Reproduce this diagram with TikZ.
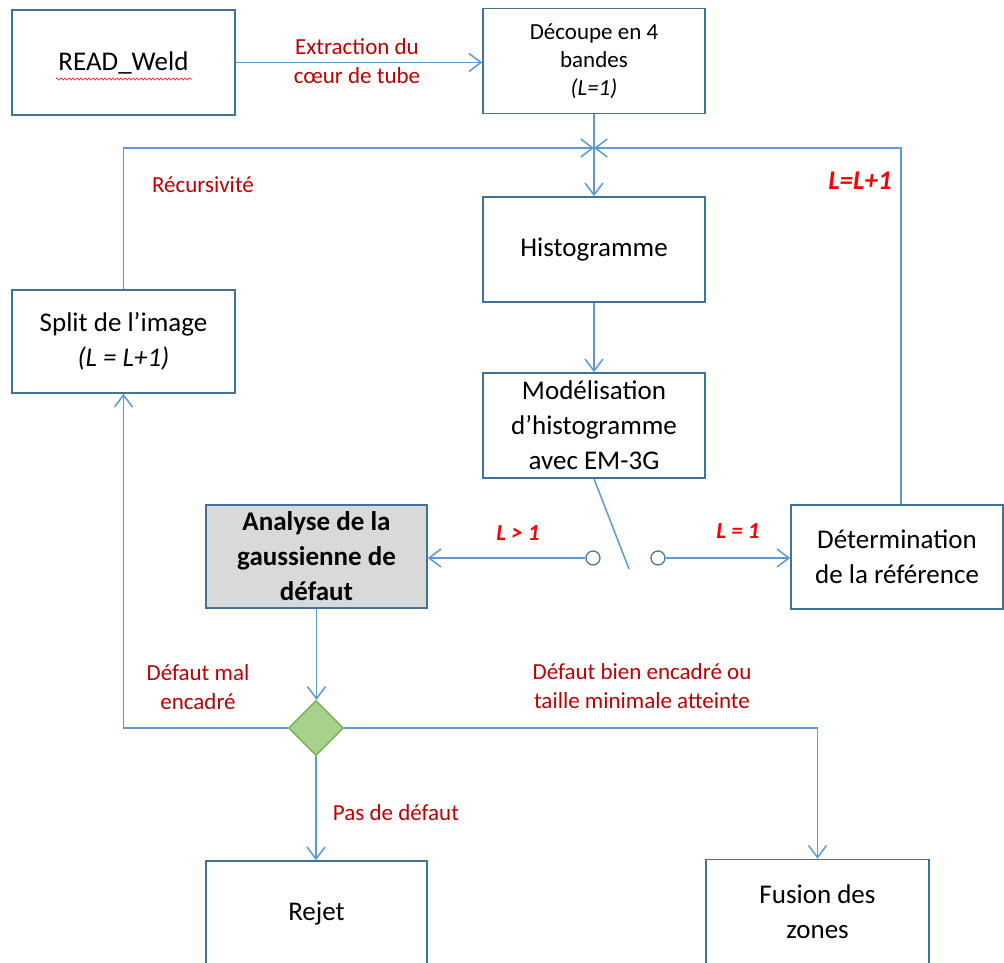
\documentclass[tikz,border=0pt]{standalone}
\usepackage{fontspec}
\setmainfont{Carlito}
\usetikzlibrary{arrows.meta,shapes.geometric,decorations.pathmorphing}
\definecolor{boxc}{HTML}{41719C}
\definecolor{linec}{HTML}{5B9BD5}
\definecolor{lab}{HTML}{C00000}
\definecolor{labr}{HTML}{FF0000}
\definecolor{dfill}{HTML}{A9D18E}
\definecolor{dline}{HTML}{70AD47}
\definecolor{gfill}{HTML}{D9D9D9}
\begin{document}
\begin{tikzpicture}[x=1pt,y=-1pt,
 box/.style={draw=boxc, line width=1.6pt, fill=white, align=center, inner sep=0pt, font=\fontsize{27}{35}\selectfont},
 conn/.style={draw=linec, line width=1.5pt},
 arr/.style={conn, -{Straight Barb[length=12pt,width=18pt]}},
 lbl/.style={text=lab, align=center, font=\fontsize{23}{29}\selectfont},
 lblr/.style={text=labr, font=\fontsize{23}{29}\selectfont\bfseries\itshape},
 sw/.style={circle, draw=boxc, line width=1.2pt, fill=white, minimum size=14pt, inner sep=0pt},
]
\clip (0,0) rectangle (1004,963);
\fill[white] (0,0) rectangle (1004,963);

% boxes
\node[box, minimum width=223pt, minimum height=105pt] (read) at (123.5,62.5) {READ\_Weld};
\node[box, minimum width=222pt, minimum height=105pt, font=\fontsize{23}{28}\selectfont] (decoupe) at (594,61) {Découpe en 4\\bandes\\\textit{(L=1)}};
\node[box, minimum width=222pt, minimum height=105pt] (histo) at (594,249.5) {Histogramme};
\node[box, minimum width=222pt, minimum height=105pt] (model) at (594,425.5) {Modélisation\\d’histogramme\\avec EM-3G};
\node[box, minimum width=223pt, minimum height=103pt] (split) at (123.5,341.5) {Split de l’image\\\textit{(L = L+1)}};
\node[box, fill=gfill, minimum width=221pt, minimum height=103pt, font=\fontsize{27}{35}\selectfont\bfseries] (analyse) at (316.5,556.5) {Analyse de la\\gaussienne de\\défaut};
\node[box, minimum width=212pt, minimum height=104pt] (determ) at (897,557) {Détermination\\de la référence};
\node[box, minimum width=221pt, minimum height=105pt] (rejet) at (316.5,913.5) {Rejet};
\node[box, minimum width=223pt, minimum height=105pt] (fusion) at (817.5,912) {Fusion des\\zones};
\node[diamond, aspect=1, draw=dline, fill=dfill, line width=1.2pt, minimum width=55pt, minimum height=55pt, inner sep=0pt] (dia) at (316,728) {};

% spell-check wavy underline
\draw[red, line width=0.6pt, decorate, decoration={snake, amplitude=1.1pt, segment length=4pt}] (56,79) -- (192,79);

% junction and switch
\coordinate (J) at (594,148);
\coordinate (s2) at (629,569);
\node[sw] (c1) at (593,558) {};
\node[sw] (c2) at (658,558) {};

% connectors
\draw[arr] (read.east |- 0,62.5) -- (decoupe.west |- 0,62.5);
\draw[arr] (decoupe) -- (histo);
\draw[arr] (split.north) |- (J);
\draw[arr] ([xshift=4pt]determ.north) |- (J);
\draw[arr] (histo) -- (model);
\draw[conn] (model.south) -- (s2);
\draw[arr] (c1.west) -- (c1.west -| analyse.east);
\draw[arr] (c2.east) -- (c2.east -| determ.west);
\draw[arr] (analyse.south) -- (analyse.south |- dia.north);
\draw[arr] (dia.west) -| (split.south);
\draw[arr] (dia.east) -| (fusion.north);
\draw[arr] (dia.south) -- (dia.south |- rejet.north);

% labels
\node[lbl] (lext) at (357,61) {Extraction du\\cœur de tube};
\node[lbl] (lrec) at (203,185) {Récursivité};
\node[lblr, font=\fontsize{27}{33}\selectfont\bfseries\itshape] (lll) at (860,181) {L=L+1};
\node[lblr] (lgt) at (518,533) {L > 1};
\node[lblr] (leq) at (738,531) {L = 1};
\node[lbl] (lmal) at (198,687) {Défaut mal\\encadré};
\node[lbl] (lbien) at (642,686) {Défaut bien encadré ou\\taille minimale atteinte};
\node[lbl] (lpas) at (396,813) {Pas de défaut};
\end{tikzpicture}
\end{document}
